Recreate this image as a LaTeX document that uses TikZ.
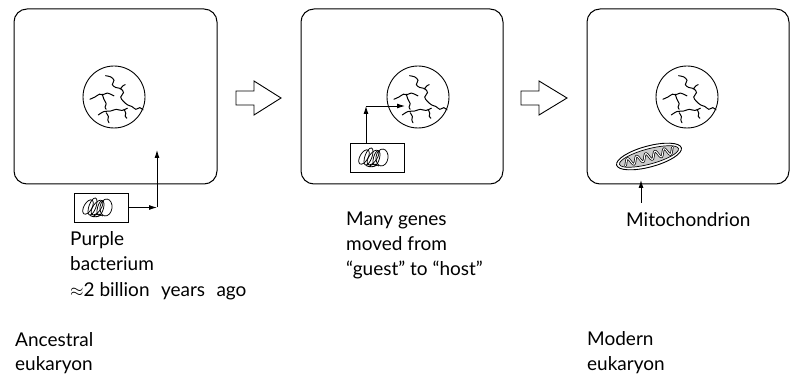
\documentclass[tikz,border=0pt]{standalone}
\usepackage{fontspec}
\setmainfont{Lato}
\usetikzlibrary{arrows.meta}
\tikzset{
  cell/.style={draw, line width=1pt, rounded corners=13pt, inner sep=0pt},
  lbl/.style={anchor=base west, inner sep=0pt, font=\fontsize{19}{24}\selectfont},
  conn/.style={line width=0.9pt, -{Latex[length=8pt,width=5pt]}},
  bac/.style={draw, line width=0.9pt, minimum width=54pt, minimum height=29pt, inner sep=0pt},
  blockarrow/.style={draw, line width=0.9pt, line join=miter},
  chrom/.style={line width=1pt, line cap=round},
  loop/.style={line width=0.75pt},
  nucleus/.pic={
    \node[circle, draw, line width=0.9pt, minimum size=62pt, inner sep=0pt] (-c) at (0,0) {};
    \begin{scope}[scale=1.12]
    \draw[chrom] plot[smooth] coordinates {(-7.5,-19) (-3,-18) (0,-15) (-1.5,-11) (1.5,-8.5) (6,-7.5) (8.5,-4) (6,0) (8,3.5) (12,7) (16,8.5) (19.5,11) (23,9.5) (26,11.5)};
    \draw[chrom] plot[smooth] coordinates {(5.5,-7) (8,-10) (10,-11)};
    \draw[chrom] plot[smooth] coordinates {(-21.5,2) (-17,0) (-13,-2.5) (-10,-2) (-6,-3.5) (-2,-2) (0,-1)};
    \draw[chrom] plot[smooth] coordinates {(-10.5,-2.5) (-9,2) (-7,6) (-8,9) (-7,11)};
    \draw[chrom] plot[smooth] coordinates {(-14,16) (-9,13) (-3,12.5) (2,11) (7,12) (12,10)};
    \draw[chrom] plot[smooth] coordinates {(-7,14) (-5,17.5) (-5.5,20.5) (-4.5,23)};
    \draw[chrom] plot[smooth] coordinates {(9,11) (10.5,14.5) (10,17) (11.5,19)};
    \end{scope}
  },
  tangle/.pic={
    \draw[loop, rotate around={-30:(-8,0)}] (-8,0) ellipse [x radius=4pt, y radius=8pt];
    \draw[loop, rotate around={-20:(-3.5,-0.5)}] (-3.5,-0.5) ellipse [x radius=3.5pt, y radius=9pt];
    \draw[loop, rotate around={-35:(1,0.5)}] (1,0.5) ellipse [x radius=4pt, y radius=8.5pt];
    \draw[loop, rotate around={-15:(4.5,1)}] (4.5,1) ellipse [x radius=3pt, y radius=7.5pt];
    \draw[loop, rotate around={-8:(10,0.5)}] (10,0.5) ellipse [x radius=6pt, y radius=8.5pt];
    \draw[line width=0.9pt] (-6,8.5) .. controls (-2,10.5) and (2,10) .. (5,8);
    \draw[line width=0.9pt] (-3,9.5) .. controls (0,7) and (3,6) .. (7,9);
  }
}
\begin{document}
\begin{tikzpicture}[x=1pt, y=-1pt]
\useasboundingbox (0,0) rectangle (790,374);

% cells
\node[cell, minimum width=203pt, minimum height=175pt] (cell1) at (115.5,96.5) {};
\node[cell, minimum width=202pt, minimum height=175pt] (cell2) at (402,96.5) {};
\node[cell, minimum width=202pt, minimum height=175pt] (cell3) at (688,96.5) {};

% nuclei
\pic (n1) at (114,97) {nucleus};
\pic (n2) at (418,97) {nucleus};
\pic (n3) at (687,97) {nucleus};

% block arrows
\draw[blockarrow] (236,91) -- (254,91) -- (254,81) -- (281,98) -- (254,115) -- (254,105) -- (236,105) -- cycle;
\draw[blockarrow] (521,91) -- (539,91) -- (539,81) -- (567,98) -- (539,115) -- (539,105) -- (521,105) -- cycle;

% bacterium 1
\node[bac] (bac1) at (101,207.5) {};
\pic at (96,207) {tangle};
\coordinate (k1) at (157,207.5);
\coordinate (e1) at (157,150);
\draw[conn] (bac1.east) -- (k1);
\draw[conn] (k1) -- (e1);

% bacterium 2
\node[bac] (bac2) at (377.5,157.5) {};
\pic at (372,157) {tangle};
\coordinate (k2) at (366,106);
\coordinate (e2) at (405,106);
\draw[conn] (bac2.north -| k2) -- (k2);
\draw[conn] (k2) -- (e2);

% mitochondrion
\begin{scope}[shift={(649,156.5)}, rotate=15]
  \draw[line width=0.9pt, fill=white] (0,0) ellipse [x radius=33.5pt, y radius=10.5pt];
  \draw[line width=0.7pt, fill=gray!40] (0,0) ellipse [x radius=30.5pt, y radius=7.6pt];
  \draw[line width=2.4pt, line cap=round] plot[domain=-25:25, samples=90, smooth] (\x,{3.6*sin(\x*38)});
  \draw[line width=1pt, white, line cap=round] plot[domain=-25:25, samples=90, smooth] (\x,{3.6*sin(\x*38)});
\end{scope}
\coordinate (m0) at (641,203);
\coordinate (m1) at (641,180);
\draw[conn] (m0) -- (m1);

% labels
\node[lbl] (t1a) at (70,246) {Purple};
\node[lbl] (t1b) at (70,271) {bacterium};
\node[lbl] (t1c) at (70,296) {$\approx$2 billion\hspace{0.6em}years\hspace{0.6em}ago};
\node[lbl] (t2a) at (346,226) {Many genes};
\node[lbl] (t2b) at (346,251) {moved from};
\node[lbl] (t2c) at (346,276) {“guest” to “host”};
\node[lbl] (t3) at (626,227) {Mitochondrion};
\node[lbl] (t4a) at (15,346) {Ancestral};
\node[lbl] (t4b) at (15,370) {eukaryon};
\node[lbl] (t5a) at (587,345) {Modern};
\node[lbl] (t5b) at (587,370) {eukaryon};
\end{tikzpicture}
\end{document}
